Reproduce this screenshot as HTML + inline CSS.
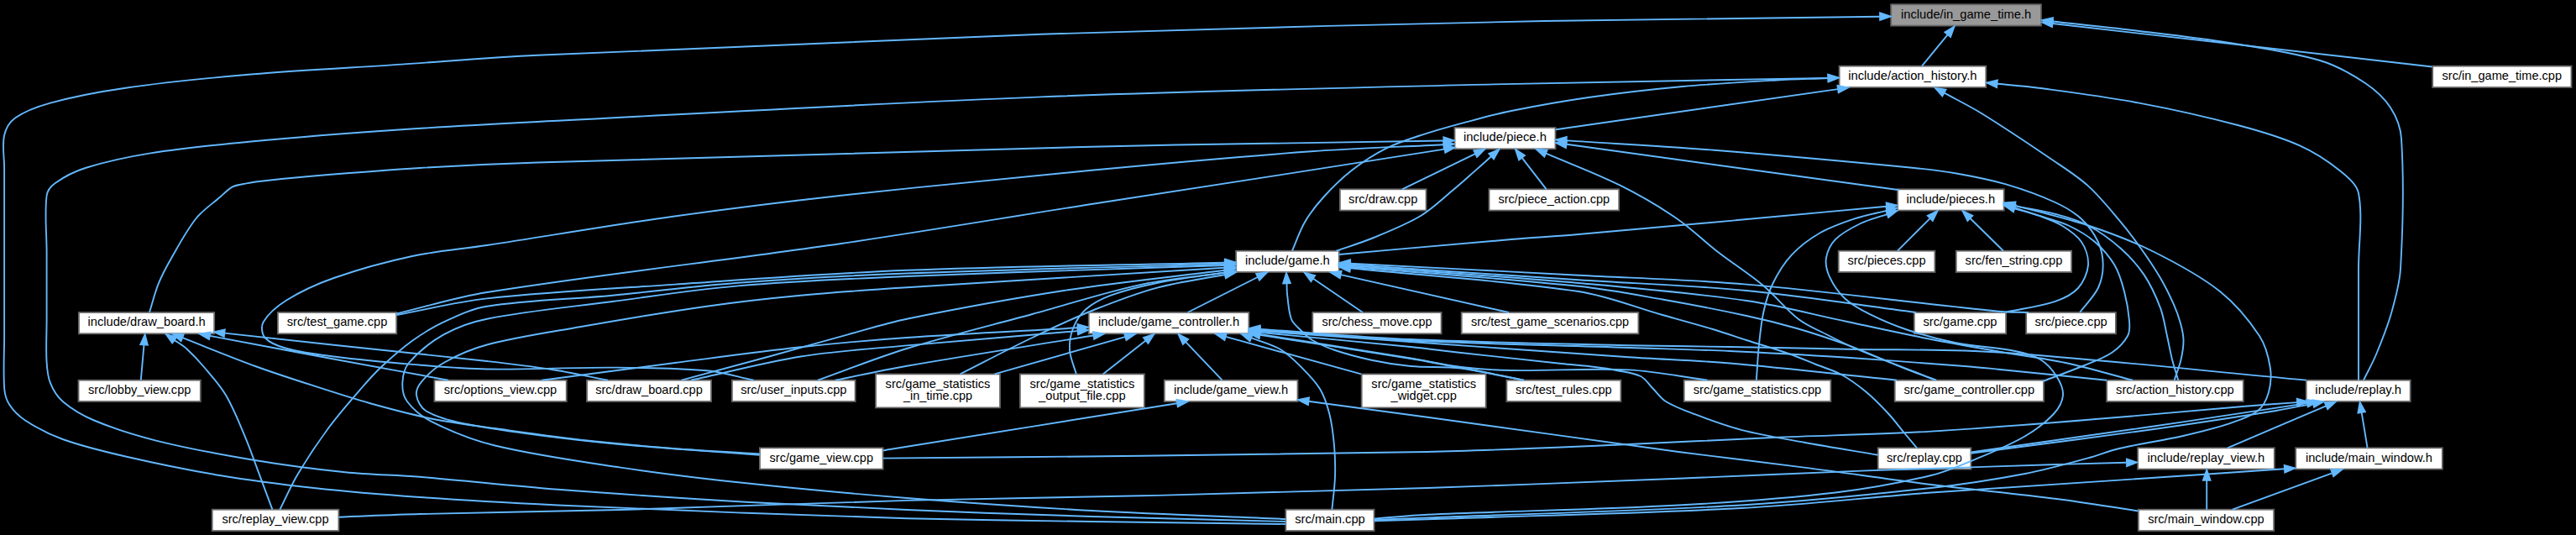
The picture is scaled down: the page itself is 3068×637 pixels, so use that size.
<!DOCTYPE html><html><head><meta charset="utf-8"><title>include/in_game_time.h</title><style>html,body{margin:0;padding:0;background:#000;}body{width:3068px;height:637px;overflow:hidden;font-family:"Liberation Sans",sans-serif;}</style></head><body><svg width="3068" height="637" viewBox="0 0 3068 637" style="display:block"><rect width="3068" height="637" fill="#000"/><g stroke="#666666" stroke-width="1.8"><rect x="2252.2" y="5.3" width="178.7" height="25.3" fill="#999999"/><rect x="2190.6" y="78.7" width="174.7" height="25.3" fill="#ffffff"/><rect x="2897.2" y="78.7" width="165.3" height="25.3" fill="#ffffff"/><rect x="1732.5" y="152.0" width="120.0" height="25.3" fill="#ffffff"/><rect x="1595.9" y="225.3" width="102.7" height="25.3" fill="#ffffff"/><rect x="1773.5" y="225.3" width="154.7" height="25.3" fill="#ffffff"/><rect x="2260.0" y="225.3" width="126.7" height="25.3" fill="#ffffff"/><rect x="1472.1" y="298.7" width="122.7" height="25.3" fill="#ffffff"/><rect x="2189.7" y="298.7" width="114.7" height="25.3" fill="#ffffff"/><rect x="2329.8" y="298.7" width="137.3" height="25.3" fill="#ffffff"/><rect x="93.9" y="372.0" width="161.3" height="25.3" fill="#ffffff"/><rect x="330.9" y="372.0" width="141.3" height="25.3" fill="#ffffff"/><rect x="1296.7" y="372.0" width="190.7" height="25.3" fill="#ffffff"/><rect x="1563.3" y="372.0" width="153.3" height="25.3" fill="#ffffff"/><rect x="1740.7" y="372.0" width="210.7" height="25.3" fill="#ffffff"/><rect x="2279.8" y="372.0" width="109.3" height="25.3" fill="#ffffff"/><rect x="2413.2" y="372.0" width="106.7" height="25.3" fill="#ffffff"/><rect x="93.5" y="452.7" width="145.3" height="25.3" fill="#ffffff"/><rect x="517.4" y="452.7" width="157.3" height="25.3" fill="#ffffff"/><rect x="699.0" y="452.7" width="148.0" height="25.3" fill="#ffffff"/><rect x="871.9" y="452.7" width="146.7" height="25.3" fill="#ffffff"/><rect x="1043.0" y="445.4" width="148.0" height="40.0" fill="#ffffff"/><rect x="1214.9" y="445.4" width="148.0" height="40.0" fill="#ffffff"/><rect x="1386.8" y="452.7" width="158.7" height="25.3" fill="#ffffff"/><rect x="1621.7" y="445.4" width="148.0" height="40.0" fill="#ffffff"/><rect x="1794.4" y="452.7" width="136.0" height="25.3" fill="#ffffff"/><rect x="2005.7" y="452.7" width="174.7" height="25.3" fill="#ffffff"/><rect x="2256.7" y="452.7" width="177.3" height="25.3" fill="#ffffff"/><rect x="2509.1" y="452.7" width="162.7" height="25.3" fill="#ffffff"/><rect x="2746.7" y="452.7" width="124.0" height="25.3" fill="#ffffff"/><rect x="904.9" y="533.3" width="146.7" height="25.3" fill="#ffffff"/><rect x="2236.7" y="533.3" width="110.7" height="25.3" fill="#ffffff"/><rect x="2546.1" y="533.3" width="162.7" height="25.3" fill="#ffffff"/><rect x="2734.2" y="533.3" width="174.7" height="25.3" fill="#ffffff"/><rect x="252.7" y="606.7" width="150.7" height="25.3" fill="#ffffff"/><rect x="1531.3" y="606.7" width="105.3" height="25.3" fill="#ffffff"/><rect x="2546.8" y="606.7" width="161.3" height="25.3" fill="#ffffff"/></g><g fill="none" stroke="#63b8ff" stroke-width="1.9"><path d="M2289.0,78.7L2319.6,41.3"/><path d="M2896.5,79.5L2444.7,28.0"/><path d="M2815.0,452.7C2820.0,442.5 2825.6,432.5 2830.0,422.0C2836.6,405.9 2843.3,389.7 2848.0,373.0C2852.9,355.7 2858.0,337.9 2859.0,320.0C2862.0,268.6 2863.2,216.1 2860.0,165.0C2859.2,152.1 2853.9,138.7 2847.0,128.0C2839.6,116.7 2828.4,106.6 2817.0,99.0C2800.4,88.0 2782.1,77.7 2763.0,72.0C2728.1,61.7 2691.2,56.9 2655.0,51.0C2619.5,45.2 2583.7,41.3 2548.0,37.0C2513.6,32.8 2479.2,29.3 2444.7,25.5"/><path d="M1531.3,624.0C1454.2,623.0 1377.1,622.2 1300.0,621.0C1226.7,619.9 1153.3,619.0 1080.0,617.2C1016.2,615.6 952.4,613.2 888.6,610.8C813.8,608.0 739.0,605.1 664.3,601.5C609.5,598.8 554.7,595.9 500.0,592.0C457.8,589.0 415.7,585.6 373.7,581.0C336.2,576.9 298.8,572.2 261.6,566.0C224.0,559.7 186.6,552.0 149.5,543.5C124.3,537.7 98.9,531.7 74.7,523.0C59.1,517.4 43.8,509.5 30.0,500.5C22.7,495.7 15.9,489.0 11.2,481.8C7.7,476.5 5.7,469.5 5.2,463.0C3.7,442.2 5.1,421.0 5.1,400.0C5.1,366.7 5.1,333.3 5.1,300.0C5.1,266.7 5.1,233.3 5.1,200.0C5.1,187.2 2.4,173.6 5.0,161.5C6.7,153.7 11.6,145.1 18.0,140.5C29.9,132.1 45.4,126.6 60.0,122.6C89.2,114.6 119.4,109.0 149.5,104.7C199.1,97.6 249.1,92.8 299.0,88.5C358.7,83.4 418.7,80.6 478.5,76.6C532.3,73.0 586.1,68.3 640.0,65.8C839.9,56.4 1039.9,47.5 1240.0,40.7C1439.9,33.9 1640.0,29.2 1840.0,25.0C1972.9,22.2 2105.9,21.5 2238.9,19.7"/><path d="M1853.0,154.2L2188.8,106.1"/><path d="M1539.0,298.5C1544.0,287.1 1547.8,275.0 1554.0,264.4C1560.3,253.7 1568.1,243.7 1576.5,234.5C1586.8,223.2 1597.9,212.2 1610.0,202.8C1622.7,192.9 1636.6,183.8 1651.0,176.6C1665.2,169.5 1680.8,164.8 1696.0,159.8C1713.3,154.2 1730.9,149.5 1748.4,144.8C1765.5,140.2 1782.6,135.5 1800.0,132.0C1830.5,125.9 1861.2,120.4 1892.0,116.0C1929.2,110.7 1966.6,106.4 2004.0,103.0C2041.3,99.6 2078.6,97.6 2116.0,95.5C2136.4,94.3 2156.8,93.9 2177.2,93.0"/><path d="M1531.3,621.0C1454.2,619.0 1377.1,617.4 1300.0,615.0C1226.7,612.7 1153.3,610.1 1080.0,607.0C1016.2,604.3 952.4,601.4 888.6,597.7C813.8,593.3 739.0,588.5 664.3,582.8C609.5,578.6 554.8,572.3 500.0,567.8C470.4,565.4 440.6,565.2 411.0,562.2C373.6,558.4 336.1,553.4 299.0,547.2C261.4,540.9 223.7,534.0 186.8,524.8C161.4,518.5 136.0,510.5 112.0,500.5C98.7,494.9 85.5,487.2 74.7,478.0C68.1,472.3 63.0,463.8 59.8,455.7C56.6,447.8 56.0,438.6 55.5,430.0C54.6,413.4 55.6,396.7 55.6,380.0C55.6,353.3 55.6,326.7 55.6,300.0C55.6,277.7 52.9,254.5 55.6,233.0C56.3,227.2 61.0,221.4 65.8,218.0C76.4,210.4 89.0,204.0 101.7,200.0C126.9,192.1 153.2,186.6 179.4,182.4C219.0,176.1 259.0,172.3 299.0,168.5C358.7,162.9 418.6,158.4 478.5,154.3C532.3,150.6 586.1,147.8 640.0,145.0C840.0,134.8 1039.9,123.2 1240.0,115.4C1419.9,108.4 1600.0,104.7 1780.0,100.4C1912.4,97.2 2044.8,95.4 2177.2,92.9"/><path d="M2589.6,452.7C2592.2,444.7 2595.5,436.9 2597.4,428.8C2599.2,421.0 2600.6,412.9 2600.5,405.0C2600.4,398.3 2598.8,391.5 2597.0,385.0C2594.9,377.4 2592.2,369.9 2589.0,362.7C2584.2,351.9 2579.0,341.2 2573.0,331.0C2566.0,319.0 2558.1,307.4 2550.0,296.0C2542.4,285.3 2534.5,274.7 2526.0,264.6C2513.5,249.8 2501.3,234.4 2487.0,221.4C2473.9,209.5 2458.5,200.0 2443.8,190.0C2416.2,171.2 2388.4,152.6 2360.0,135.0C2345.7,126.1 2330.5,118.8 2315.7,110.7"/><path d="M2809.0,452.7C2809.0,408.5 2809.0,364.2 2809.0,320.0C2809.0,290.0 2814.3,258.1 2809.0,230.0C2806.9,219.2 2795.7,210.5 2786.8,203.3C2772.4,191.6 2756.0,181.0 2739.0,173.4C2716.1,163.1 2691.4,156.0 2667.0,149.5C2627.6,139.0 2587.7,130.1 2547.6,122.6C2508.0,115.2 2467.9,110.1 2428.0,104.7C2411.7,102.5 2395.2,101.4 2378.8,99.8"/><path d="M178.0,372.0C181.5,360.9 184.1,349.4 188.4,338.6C192.5,328.3 197.8,318.3 203.3,308.7C212.8,292.1 221.9,274.8 233.6,260.0C241.3,250.3 252.2,243.2 261.6,235.0C266.5,230.8 271.1,225.8 276.5,222.6C279.8,220.7 283.9,220.3 287.7,219.5C293.9,218.2 300.1,216.9 306.4,216.2C328.8,213.6 351.2,211.4 373.7,209.5C415.8,206.0 457.9,202.5 500.0,200.0C546.6,197.2 593.3,195.0 640.0,193.5C860.0,186.5 1080.0,180.0 1300.0,174.7C1439.7,171.3 1579.4,169.9 1719.2,167.5"/><path d="M472.2,373.5C508.1,365.0 543.6,353.7 580.0,348.0C720.2,325.9 861.5,310.5 1002.0,290.0C1101.5,275.5 1200.6,258.5 1300.0,243.0C1374.6,231.3 1449.3,220.0 1524.0,208.4C1589.5,198.2 1654.9,187.8 1720.3,177.6"/><path d="M1670.0,225.3L1757.0,183.2"/><path d="M1591.5,298.7C1606.3,293.5 1621.5,289.0 1636.0,283.0C1655.0,275.1 1674.5,267.5 1692.0,257.0C1705.7,248.8 1717.3,237.3 1729.7,227.0C1739.9,218.6 1749.7,209.6 1759.6,200.9C1765.1,196.1 1770.6,191.1 1776.0,186.3"/><path d="M1841.7,225.3L1812.7,187.9"/><path d="M2306.0,452.7C2297.3,449.5 2288.6,446.4 2280.0,443.0C2256.6,433.8 2233.1,424.9 2210.0,415.0C2198.8,410.2 2187.9,404.6 2177.0,399.0C2165.2,392.9 2152.4,388.0 2142.0,380.0C2126.8,368.3 2114.8,352.4 2100.0,340.0C2082.8,325.7 2063.7,313.7 2046.0,300.0C2029.3,287.0 2014.1,271.9 1996.7,260.0C1975.3,245.4 1952.7,232.2 1929.5,220.7C1900.9,206.5 1870.7,195.3 1841.2,182.7"/><path d="M2262.0,226.3L1865.7,171.8"/><path d="M2477.0,372.0C2484.3,362.3 2493.6,353.6 2498.8,343.0C2502.8,334.8 2504.7,324.7 2504.7,315.6C2504.7,306.4 2502.7,296.3 2498.8,288.0C2494.1,278.0 2487.1,268.2 2479.0,260.7C2470.1,252.5 2458.9,246.1 2447.8,241.0C2428.9,232.3 2409.0,225.3 2389.0,219.4C2369.7,213.8 2349.8,210.0 2330.0,206.5C2313.5,203.6 2296.7,201.6 2280.0,200.0C2200.6,192.4 2121.1,185.1 2041.6,178.8C1983.1,174.2 1924.4,171.2 1865.8,167.4"/><path d="M2389.0,371.6C2408.6,367.3 2429.0,365.1 2447.8,358.8C2457.6,355.5 2468.3,350.4 2475.0,343.0C2481.4,336.0 2486.3,325.0 2487.0,315.6C2487.7,306.6 2484.1,295.6 2479.0,288.0C2473.6,279.9 2464.2,273.8 2455.6,268.5C2447.2,263.3 2437.4,260.2 2428.0,256.7C2418.6,253.2 2408.9,250.6 2399.3,247.5"/><path d="M2433.0,454.0C2448.7,448.0 2464.5,442.4 2480.0,436.0C2491.8,431.1 2504.5,427.0 2515.0,420.0C2522.5,415.0 2529.8,407.6 2534.0,400.0C2536.8,395.0 2536.5,388.0 2536.0,382.0C2535.1,370.3 2533.0,358.4 2530.0,347.0C2527.2,336.3 2524.0,325.1 2518.4,315.6C2512.3,305.4 2504.0,295.8 2495.0,288.0C2485.7,280.1 2474.6,273.7 2463.5,268.5C2452.3,263.3 2439.9,260.5 2428.0,256.7C2418.5,253.7 2408.9,251.1 2399.4,248.3"/><path d="M2594.3,452.7C2591.9,444.5 2589.1,436.3 2587.0,428.0C2584.7,418.8 2583.1,409.3 2581.0,400.0C2578.5,388.8 2577.0,377.3 2573.0,366.6C2567.9,353.1 2561.7,339.4 2553.7,327.4C2546.0,315.9 2536.4,305.2 2526.0,296.0C2514.2,285.5 2500.9,275.8 2487.0,268.5C2474.9,262.1 2461.1,258.4 2447.8,254.8C2432.0,250.6 2415.7,248.4 2399.7,245.1"/><path d="M2260.0,298.7L2298.6,260.1"/><path d="M2386.0,298.7L2346.5,260.0"/><path d="M897.6,452.7C878.9,448.9 860.5,443.0 841.6,441.3C804.5,438.0 766.9,437.9 729.5,437.6C679.7,437.3 629.8,440.3 580.0,439.5C550.3,439.0 520.6,436.3 491.0,433.9C459.8,431.3 428.6,428.4 397.6,424.5C378.8,422.1 359.7,420.0 341.6,415.0C332.3,412.5 321.1,408.4 315.4,402.0C311.8,397.9 310.7,388.3 313.6,383.4C319.5,373.4 330.9,364.0 341.6,357.3C358.9,346.5 378.2,337.8 397.6,331.0C428.0,320.4 459.5,311.7 491.0,305.0C520.3,298.7 550.4,296.5 580.0,292.0C653.4,280.8 726.5,268.3 800.0,258.0C866.5,248.7 933.2,240.4 1000.0,233.0C1099.9,222.0 1199.9,212.2 1300.0,202.8C1387.1,194.6 1474.3,186.7 1561.6,180.3C1614.1,176.5 1666.7,174.9 1719.2,172.2"/><path d="M167.8,452.7L171.5,410.7"/><path d="M324.4,606.7C319.6,593.7 314.9,580.7 310.0,567.8C303.9,551.6 298.2,535.2 291.5,519.2C284.6,502.8 278.0,485.9 269.0,470.6C261.8,458.5 252.1,447.8 243.0,437.0C236.5,429.3 229.5,421.8 222.0,415.0C217.8,411.1 212.6,408.4 207.9,405.1"/><path d="M904.7,541.7C874.4,539.5 844.1,537.5 813.8,535.0C776.4,531.9 739.0,529.0 701.7,524.8C664.2,520.6 626.9,515.2 589.5,510.0C564.6,506.5 539.5,503.6 514.8,498.7C489.6,493.6 464.7,486.9 440.0,480.0C417.7,473.8 395.7,466.5 373.7,459.4C350.4,451.9 327.0,444.4 304.0,436.0C274.9,425.4 246.3,413.5 217.4,402.2"/><path d="M534.0,452.7C489.3,444.5 444.7,436.3 400.0,428.0C350.0,418.7 300.1,409.2 250.1,399.9"/><path d="M723.9,452.7C700.8,448.3 677.9,443.2 654.7,439.5C629.9,435.6 604.9,432.8 580.0,430.0C520.0,423.3 460.0,417.4 400.0,411.0C355.8,406.3 311.7,401.4 267.6,396.6"/><path d="M472.2,375.0C508.1,368.5 543.7,359.4 580.0,355.4C654.3,347.2 729.3,343.6 804.0,338.6C896.0,332.4 987.9,325.4 1080.0,321.8C1206.1,316.8 1332.4,315.7 1458.7,312.7"/><path d="M333.3,606.7C340.5,592.5 346.8,577.7 355.0,564.0C366.5,544.8 379.1,526.0 392.4,508.0C404.0,492.4 416.9,477.7 429.7,463.0C437.5,454.0 445.3,445.1 454.0,437.0C465.8,426.0 478.0,415.2 491.0,405.8C502.8,397.3 515.3,389.5 528.4,383.4C544.9,375.8 562.0,367.5 580.0,364.7C629.1,357.0 679.7,356.4 729.5,351.7C779.4,347.0 829.1,340.4 879.0,336.7C945.9,331.7 1013.0,328.1 1080.0,325.5C1206.2,320.6 1332.5,318.1 1458.7,314.4"/><path d="M1531.3,618.0C1454.2,614.7 1377.0,612.3 1300.0,608.0C1226.6,603.9 1153.3,598.8 1080.0,593.0C1016.1,587.9 952.3,582.1 888.6,575.3C838.6,570.0 788.7,564.0 739.0,556.6C689.0,549.1 638.5,542.3 589.5,530.5C563.7,524.3 538.3,514.2 514.8,502.4C503.4,496.7 492.3,487.8 484.9,478.0C480.5,472.2 479.0,463.1 479.3,455.7C479.7,447.7 481.8,438.1 487.0,432.0C498.2,419.0 513.1,407.0 528.4,398.4C544.1,389.6 562.1,383.2 580.0,379.7C629.2,370.1 679.6,365.6 729.5,359.0C779.3,352.5 829.0,344.7 879.0,340.4C945.8,334.7 1013.0,331.8 1080.0,329.0C1206.2,323.7 1332.5,320.3 1458.7,316.0"/><path d="M904.7,540.5C861.9,537.8 819.1,535.8 776.4,532.3C739.0,529.3 701.6,525.6 664.3,521.0C626.8,516.3 589.0,511.8 552.0,504.3C536.6,501.2 520.1,497.0 507.3,489.3C501.4,485.7 496.9,477.1 496.0,470.6C495.2,465.5 498.6,458.7 502.2,454.4C509.4,445.8 518.5,437.6 528.4,432.0C544.4,422.9 562.1,415.2 580.0,410.5C616.6,400.9 654.6,395.6 692.0,389.0C741.8,380.3 791.6,371.8 841.6,364.7C878.8,359.4 916.3,355.2 953.7,351.7C995.7,347.8 1037.9,345.0 1080.0,342.3C1206.2,334.1 1332.5,326.6 1458.7,318.8"/><path d="M811.7,452.7C846.5,443.3 881.3,434.0 916.0,424.5C947.3,415.9 978.4,406.9 1009.7,398.4C1033.1,392.0 1056.3,384.5 1080.0,379.7C1142.0,367.1 1204.4,355.6 1267.0,346.0C1330.7,336.2 1394.9,329.8 1458.8,321.7"/><path d="M974.0,452.7C1009.3,440.1 1044.2,426.0 1080.0,415.0C1129.4,399.8 1179.6,387.6 1229.5,374.0C1273.0,362.1 1316.0,348.0 1360.0,338.6C1392.4,331.6 1425.9,329.4 1458.8,324.8"/><path d="M1143.5,445.4C1172.2,430.9 1200.5,415.9 1229.5,402.0C1254.0,390.2 1278.7,378.6 1304.0,368.5C1328.6,358.7 1353.5,349.1 1379.0,342.3C1405.1,335.3 1432.3,332.1 1458.9,327.0"/><path d="M1281.8,445.4C1279.2,435.9 1274.7,426.6 1274.0,417.0C1273.4,408.4 1274.9,399.0 1278.0,391.0C1281.2,382.8 1286.4,374.3 1293.0,368.5C1301.4,361.2 1312.3,355.6 1323.0,351.7C1341.0,345.0 1360.1,340.5 1379.0,336.7C1405.4,331.4 1432.2,328.6 1458.8,324.5"/><path d="M645.4,452.7C698.3,445.8 751.1,438.8 804.0,432.0C853.9,425.6 903.7,418.7 953.7,413.3C995.7,408.7 1037.8,404.9 1080.0,402.0C1147.7,397.3 1215.6,394.2 1283.4,390.3"/><path d="M823.0,452.7C866.6,443.3 909.8,431.6 953.7,424.5C995.4,417.8 1037.9,415.3 1080.0,411.4C1147.8,405.2 1215.6,399.9 1283.4,394.1"/><path d="M994.8,452.7C1023.2,447.0 1051.5,440.6 1080.0,435.7C1153.9,422.9 1228.2,411.6 1302.2,399.5"/><path d="M1184.6,445.4L1340.0,401.1"/><path d="M1313.6,445.4L1364.5,405.6"/><path d="M1455.6,452.7L1412.2,407.1"/><path d="M1414.5,372.0L1497.8,330.0"/><path d="M1623.0,372.0L1564.0,331.7"/><path d="M1797.0,372.0L1597.0,327.1"/><path d="M1815.0,452.7C1790.0,448.0 1765.2,441.6 1740.0,438.5C1720.2,436.0 1699.9,437.8 1680.0,436.0C1664.7,434.6 1649.5,432.2 1634.5,429.0C1619.5,425.8 1604.5,421.9 1590.0,417.0C1580.7,413.9 1571.4,409.9 1563.0,405.0C1557.7,401.9 1553.3,397.3 1549.0,393.0C1545.0,389.0 1539.9,385.1 1538.0,380.0C1534.6,370.8 1534.3,360.0 1533.0,350.0C1532.5,345.9 1532.7,341.7 1532.5,337.5"/><path d="M2416.0,372.0C2404.0,371.6 2391.9,371.9 2380.0,370.7C2279.9,360.8 2180.2,347.2 2080.0,338.6C2013.5,332.9 1946.7,331.2 1880.0,327.7C1789.4,322.9 1698.7,318.4 1608.1,313.7"/><path d="M2282.0,372.0C2214.7,363.3 2147.5,352.5 2080.0,346.0C2013.5,339.6 1946.7,337.7 1880.0,333.3C1789.4,327.4 1698.7,321.2 1608.1,315.1"/><path d="M2540.0,452.7C2513.3,445.8 2486.9,437.8 2460.0,432.0C2433.6,426.4 2406.6,423.2 2380.0,418.5C2353.3,413.8 2326.6,409.2 2300.0,404.0C2266.6,397.4 2233.3,390.0 2200.0,383.0C2160.0,374.6 2120.4,363.8 2080.0,358.0C2013.7,348.5 1946.8,342.9 1880.0,337.0C1789.5,329.0 1698.7,323.3 1608.1,316.4"/><path d="M2306.0,452.7C2290.7,446.8 2275.3,441.1 2260.0,435.0C2239.9,427.1 2220.2,418.1 2200.0,410.7C2180.2,403.5 2160.2,396.8 2140.0,391.0C2120.2,385.3 2100.1,380.3 2080.0,376.0C2046.8,368.8 2013.4,362.4 1980.0,356.5C1946.8,350.7 1913.5,344.3 1880.0,340.8C1789.6,331.4 1698.7,325.4 1608.1,317.7"/><path d="M2283.0,533.3C2278.0,527.4 2273.0,521.5 2268.0,515.5C2261.8,508.0 2256.1,500.1 2249.5,493.0C2241.1,483.9 2232.5,474.9 2223.0,467.0C2213.6,459.2 2203.6,451.8 2193.0,446.0C2183.6,440.8 2173.0,438.0 2163.0,434.0C2152.0,429.6 2141.2,424.9 2130.0,421.0C2113.5,415.2 2096.7,410.4 2080.0,405.0C2066.7,400.7 2053.4,396.0 2040.0,392.0C2020.1,386.0 2000.0,380.6 1980.0,375.0C1946.7,365.6 1914.1,352.1 1880.0,347.0C1790.2,333.6 1698.7,328.6 1608.1,319.3"/><path d="M1621.0,445.4L1459.9,400.9"/><path d="M1586.4,606.7C1587.6,593.7 1589.6,580.8 1590.0,567.8C1590.4,555.4 1590.1,542.9 1589.0,530.5C1587.9,517.9 1586.5,505.2 1583.4,493.0C1580.8,482.7 1577.4,472.0 1572.0,463.0C1566.2,453.4 1557.7,445.0 1549.7,437.0C1542.1,429.4 1534.2,421.4 1525.0,416.0C1514.4,409.8 1501.9,406.9 1490.4,402.3"/><path d="M1815.0,452.7C1790.0,447.8 1765.0,442.8 1740.0,438.0C1720.0,434.2 1700.1,430.3 1680.0,427.0C1620.3,417.2 1560.4,408.2 1500.6,398.9"/><path d="M2033.5,452.7C2002.3,448.6 1971.3,442.0 1940.0,440.4C1893.5,438.1 1846.6,441.8 1800.0,441.0C1780.0,440.7 1759.9,439.4 1740.0,437.0C1719.9,434.6 1700.0,429.8 1680.0,426.5C1620.2,416.7 1560.4,407.4 1500.6,397.9"/><path d="M2236.7,541.7C2207.3,536.7 2177.9,532.1 2148.6,526.7C2123.6,522.1 2098.4,518.1 2073.8,511.8C2054.8,506.9 2036.2,499.9 2017.8,493.0C2006.3,488.7 1994.3,484.4 1984.0,478.0C1978.1,474.4 1974.0,468.0 1969.0,463.0C1964.0,458.0 1960.1,451.0 1954.0,448.0C1945.1,443.6 1934.1,442.8 1924.0,440.7C1916.1,439.1 1908.0,438.0 1900.0,437.0C1886.7,435.4 1873.3,434.4 1860.0,433.0C1820.0,428.7 1780.0,424.4 1740.0,420.0C1720.0,417.8 1700.0,415.0 1680.0,413.0C1620.3,407.0 1560.4,401.6 1500.7,395.9"/><path d="M2259.0,452.7C2192.7,446.0 2126.4,438.2 2060.0,432.5C2020.1,429.1 1980.0,427.9 1940.0,425.2C1853.3,419.4 1766.7,413.1 1680.0,407.0C1620.2,402.8 1560.5,398.6 1500.7,394.3"/><path d="M2509.0,452.7C2466.0,448.4 2423.0,443.9 2380.0,439.7C2366.7,438.4 2353.4,437.0 2340.0,436.0C2293.4,432.4 2246.7,428.8 2200.0,425.8C2153.4,422.8 2106.7,420.1 2060.0,418.0C2020.0,416.2 1980.0,415.3 1940.0,414.0C1853.3,411.1 1766.6,409.6 1680.0,405.5C1620.2,402.7 1560.5,397.2 1500.7,393.1"/><path d="M2746.7,452.6C2624.5,441.6 2502.4,427.8 2380.0,419.5C2320.2,415.5 2260.0,416.9 2200.0,415.7C2153.3,414.8 2106.7,413.8 2060.0,413.0C2020.0,412.3 1980.0,412.1 1940.0,411.2C1853.3,409.1 1766.6,407.8 1680.0,404.0C1620.2,401.4 1560.5,395.9 1500.7,391.9"/><path d="M1594.8,303.0C1663.2,297.0 1731.6,290.8 1800.0,285.0C1826.6,282.8 1853.4,281.3 1880.0,279.0C1942.4,273.7 2004.7,268.0 2067.0,262.3C2126.9,256.9 2186.8,251.2 2246.7,245.7"/><path d="M2091.8,452.7C2092.9,438.5 2093.5,424.2 2095.0,410.0C2096.4,396.9 2097.6,383.5 2100.5,370.7C2103.1,359.2 2106.5,347.5 2111.7,337.0C2117.6,325.1 2124.9,313.1 2134.0,303.4C2143.6,293.2 2155.5,284.3 2167.7,277.3C2180.4,270.0 2194.8,265.1 2208.8,260.4C2221.2,256.2 2234.3,254.0 2247.1,250.8"/><path d="M1636.7,617.6C1657.8,616.0 1678.9,613.6 1700.0,612.7C1799.6,608.3 1899.4,606.9 1999.0,601.5C2061.4,598.1 2124.0,593.8 2186.0,586.5C2224.3,582.0 2262.6,575.0 2300.0,566.0C2319.3,561.3 2337.7,553.1 2356.0,545.4C2375.0,537.5 2394.3,529.5 2412.0,519.2C2424.2,512.1 2436.3,503.2 2445.8,493.0C2451.3,487.0 2456.4,478.3 2457.0,470.6C2457.6,463.4 2453.6,454.7 2449.5,448.2C2444.6,440.5 2437.8,432.7 2430.0,428.0C2421.3,422.7 2410.3,420.0 2400.0,418.0C2376.4,413.4 2352.0,412.6 2328.4,408.0C2309.5,404.3 2290.7,399.1 2272.4,393.0C2257.1,387.9 2241.9,381.6 2227.5,374.4C2217.0,369.2 2206.1,363.5 2197.6,355.7C2189.9,348.6 2183.4,339.1 2179.0,329.6C2175.9,322.8 2173.8,314.2 2175.0,307.0C2176.3,299.2 2180.7,290.4 2186.4,284.7C2194.4,276.7 2205.6,271.1 2216.0,266.0C2225.9,261.2 2236.9,258.7 2247.4,255.1"/><path d="M1636.7,619.0C1657.8,618.1 1678.9,617.2 1700.0,616.4C1824.6,611.4 1949.4,608.8 2073.8,601.5C2149.4,597.0 2224.8,589.3 2300.0,581.0C2337.5,576.8 2374.9,571.1 2412.0,564.0C2437.3,559.2 2462.1,552.1 2487.0,545.4C2499.5,542.1 2511.4,536.9 2524.0,534.0C2548.8,528.2 2574.2,524.8 2599.0,519.2C2617.8,514.9 2636.7,510.4 2655.0,504.3C2666.7,500.4 2679.6,496.6 2688.8,489.3C2695.3,484.2 2699.7,475.1 2702.0,467.0C2704.7,457.6 2705.3,446.7 2703.7,437.0C2701.6,424.4 2698.1,410.7 2691.0,400.0C2678.2,380.7 2662.3,361.5 2644.0,347.0C2620.4,328.2 2592.7,313.6 2565.5,300.0C2540.4,287.4 2513.7,277.4 2487.0,268.5C2458.4,259.0 2428.6,252.6 2399.5,244.7"/><path d="M1051.7,545.6C1154.1,544.7 1256.6,544.0 1359.0,542.8C1472.7,541.5 1586.4,540.6 1700.0,538.0C1774.7,536.3 1849.3,532.8 1924.0,529.7C1986.3,527.1 2048.7,523.7 2111.0,521.0C2174.0,518.3 2237.1,517.3 2300.0,513.6C2374.7,509.2 2449.4,502.8 2524.0,496.8C2574.0,492.8 2623.9,487.9 2673.8,483.7C2694.4,482.0 2715.1,480.6 2735.7,479.1"/><path d="M2347.3,538.5C2418.8,528.3 2490.3,518.4 2561.7,508.0C2611.5,500.8 2661.2,493.1 2711.0,485.6C2723.3,483.8 2735.5,481.9 2747.8,480.1"/><path d="M2347.3,539.7C2418.8,530.3 2490.3,521.5 2561.7,511.5C2611.5,504.6 2661.3,496.9 2711.0,489.0C2725.7,486.6 2740.3,483.4 2754.9,480.6"/><path d="M2653.0,533.3L2770.2,483.3"/><path d="M2819.6,533.3L2812.7,491.3"/><path d="M403.4,615.7C435.6,614.5 467.8,612.8 500.0,612.0C579.7,609.9 659.3,609.2 739.0,607.0C852.7,603.8 966.3,599.0 1080.0,595.9C1173.0,593.4 1266.0,592.5 1359.0,590.3C1472.7,587.6 1586.4,584.7 1700.0,581.0C1799.7,577.8 1899.3,573.6 1999.0,569.7C2073.7,566.8 2148.3,563.3 2223.0,560.4C2262.0,558.9 2301.0,557.9 2340.0,556.6C2376.5,555.4 2413.0,554.1 2449.5,553.0C2477.2,552.2 2504.9,551.6 2532.7,550.8"/><path d="M2628.2,606.7L2628.2,572.0"/><path d="M1636.7,620.4C1657.8,619.7 1678.9,619.0 1700.0,618.3C1824.6,613.9 1949.3,611.6 2073.8,605.0C2149.3,601.0 2224.6,592.1 2300.0,586.5C2374.6,581.0 2449.3,576.6 2524.0,571.6C2589.6,567.2 2655.1,562.7 2720.7,558.3"/><path d="M2658.9,606.7L2777.5,563.3"/><path d="M1051.7,536.5C1054.5,536.0 1057.2,535.4 1060.0,535.0C1173.9,516.7 1287.9,498.5 1401.8,480.2"/><path d="M2546.7,608.5C2514.3,603.7 2482.0,598.1 2449.5,594.0C2399.8,587.6 2349.8,583.2 2300.0,577.0C2249.5,570.7 2199.1,563.1 2148.6,556.6C2098.8,550.1 2048.8,544.5 1999.0,538.0C1949.1,531.5 1899.3,524.3 1849.5,517.4C1799.7,510.5 1749.8,503.6 1700.0,496.8C1652.9,490.4 1605.8,484.1 1558.7,477.8"/></g><g fill="#63b8ff" stroke="#63b8ff" stroke-width="1.33"><polygon points="2328.0,31.0 2323.2,44.3 2315.9,38.4"/><polygon points="2431.5,26.5 2445.3,23.4 2444.2,32.6"/><polygon points="2431.5,24.0 2445.3,20.8 2444.2,30.1"/><polygon points="2252.2,19.5 2238.9,24.3 2238.8,15.0"/><polygon points="2202.0,104.2 2189.5,110.7 2188.1,101.5"/><polygon points="2190.5,92.5 2177.4,97.7 2177.0,88.4"/><polygon points="2190.5,92.7 2177.3,97.6 2177.1,88.3"/><polygon points="2304.0,104.3 2317.9,106.6 2313.4,114.8"/><polygon points="2365.5,98.5 2379.2,95.2 2378.3,104.5"/><polygon points="1732.5,167.3 1719.3,172.2 1719.1,162.9"/><polygon points="1733.5,175.5 1721.1,182.2 1719.6,173.0"/><polygon points="1769.0,177.4 1759.0,187.4 1755.0,179.0"/><polygon points="1786.0,177.4 1779.1,189.8 1772.9,182.8"/><polygon points="1804.5,177.4 1816.4,185.1 1809.0,190.8"/><polygon points="1829.0,177.4 1843.1,178.4 1839.4,187.0"/><polygon points="1852.5,170.0 1866.3,167.2 1865.1,176.4"/><polygon points="1852.5,166.5 1866.1,162.7 1865.5,172.0"/><polygon points="2386.6,243.5 2400.7,243.1 2397.9,252.0"/><polygon points="2386.6,244.5 2400.7,243.8 2398.1,252.7"/><polygon points="2386.6,242.5 2400.6,240.5 2398.7,249.7"/><polygon points="2308.0,250.7 2301.9,263.4 2295.3,256.8"/><polygon points="2337.0,250.7 2349.8,256.7 2343.3,263.4"/><polygon points="1732.5,171.5 1719.4,176.8 1718.9,167.5"/><polygon points="172.7,397.4 176.2,411.1 166.9,410.3"/><polygon points="197.0,397.4 210.6,401.3 205.2,408.9"/><polygon points="205.0,397.4 219.1,397.9 215.7,406.6"/><polygon points="237.0,397.4 251.0,395.3 249.2,404.4"/><polygon points="254.3,395.2 268.1,392.0 267.0,401.3"/><polygon points="1472.0,312.4 1458.8,317.4 1458.6,308.1"/><polygon points="1472.0,314.0 1458.8,319.1 1458.5,309.7"/><polygon points="1472.0,315.5 1458.8,320.6 1458.5,311.3"/><polygon points="1472.0,318.0 1459.0,323.5 1458.4,314.2"/><polygon points="1472.0,320.0 1459.4,326.3 1458.2,317.0"/><polygon points="1472.0,323.0 1459.4,329.5 1458.2,320.2"/><polygon points="1472.0,324.5 1459.8,331.6 1458.0,322.4"/><polygon points="1472.0,322.5 1459.5,329.1 1458.1,319.9"/><polygon points="1296.7,389.5 1283.7,394.9 1283.1,385.6"/><polygon points="1296.7,393.0 1283.8,398.8 1283.0,389.5"/><polygon points="1315.4,397.4 1303.0,404.2 1301.5,394.9"/><polygon points="1352.8,397.4 1341.3,405.5 1338.7,396.6"/><polygon points="1375.0,397.4 1367.4,409.3 1361.6,401.9"/><polygon points="1403.0,397.4 1415.6,403.8 1408.8,410.3"/><polygon points="1509.7,324.0 1499.9,334.2 1495.7,325.8"/><polygon points="1553.0,324.2 1566.6,327.9 1561.4,335.6"/><polygon points="1584.0,324.2 1598.0,322.6 1596.0,331.7"/><polygon points="1532.0,324.2 1537.2,337.3 1527.8,337.7"/><polygon points="1594.8,313.0 1608.4,309.0 1607.9,318.3"/><polygon points="1594.8,314.2 1608.4,310.4 1607.8,319.8"/><polygon points="1594.8,315.4 1608.4,311.8 1607.7,321.1"/><polygon points="1594.8,316.6 1608.5,313.1 1607.7,322.4"/><polygon points="1594.8,318.0 1608.5,314.7 1607.6,324.0"/><polygon points="1447.0,397.4 1461.1,396.4 1458.6,405.4"/><polygon points="1478.0,397.4 1492.1,398.0 1488.7,406.6"/><polygon points="1487.4,396.8 1501.3,394.3 1499.8,403.5"/><polygon points="1487.4,395.8 1501.3,393.3 1499.8,402.5"/><polygon points="1487.4,394.6 1501.1,391.2 1500.2,400.5"/><polygon points="1487.4,393.4 1501.0,389.7 1500.4,399.0"/><polygon points="1487.4,392.2 1501.0,388.5 1500.4,397.8"/><polygon points="1487.4,391.0 1501.0,387.2 1500.4,396.6"/><polygon points="2260.0,244.5 2247.2,250.4 2246.3,241.1"/><polygon points="2260.0,247.5 2248.2,255.3 2245.9,246.2"/><polygon points="2260.0,250.7 2248.9,259.5 2245.9,250.7"/><polygon points="2386.6,241.2 2400.7,240.2 2398.2,249.2"/><polygon points="2749.0,478.1 2736.1,483.7 2735.4,474.4"/><polygon points="2761.0,478.1 2748.5,484.7 2747.1,475.5"/><polygon points="2768.0,478.1 2755.8,485.2 2754.0,476.0"/><polygon points="2782.5,478.1 2772.1,487.6 2768.4,479.0"/><polygon points="2810.5,478.1 2817.3,490.5 2808.1,492.0"/><polygon points="2546.0,550.5 2532.8,555.5 2532.6,546.2"/><polygon points="2628.2,558.7 2632.9,572.0 2623.5,572.0"/><polygon points="2734.0,557.4 2721.0,563.0 2720.4,553.6"/><polygon points="2790.0,558.7 2779.1,567.7 2775.9,558.9"/><polygon points="1415.0,478.1 1402.6,484.8 1401.1,475.6"/><polygon points="1545.5,476.0 1559.3,473.2 1558.1,482.4"/></g><g font-family="'Liberation Sans', sans-serif" font-size="14.6px" text-anchor="middle" fill="#000"><text x="2341.6" y="21.6" textLength="155.1" lengthAdjust="spacingAndGlyphs">include/in_game_time.h</text><text x="2277.9" y="95.0" textLength="153.4" lengthAdjust="spacingAndGlyphs">include/action_history.h</text><text x="2979.8" y="95.0" textLength="142.4" lengthAdjust="spacingAndGlyphs">src/in_game_time.cpp</text><text x="1792.5" y="168.3" textLength="99.0" lengthAdjust="spacingAndGlyphs">include/piece.h</text><text x="1647.2" y="241.6" textLength="82.2" lengthAdjust="spacingAndGlyphs">src/draw.cpp</text><text x="1850.8" y="241.6" textLength="132.8" lengthAdjust="spacingAndGlyphs">src/piece_action.cpp</text><text x="2323.3" y="241.6" textLength="105.7" lengthAdjust="spacingAndGlyphs">include/pieces.h</text><text x="1533.4" y="315.0" textLength="100.8" lengthAdjust="spacingAndGlyphs">include/game.h</text><text x="2247.0" y="315.0" textLength="93.0" lengthAdjust="spacingAndGlyphs">src/pieces.cpp</text><text x="2398.5" y="315.0" textLength="115.9" lengthAdjust="spacingAndGlyphs">src/fen_string.cpp</text><text x="174.6" y="388.3" textLength="140.2" lengthAdjust="spacingAndGlyphs">include/draw_board.h</text><text x="401.5" y="388.3" textLength="119.6" lengthAdjust="spacingAndGlyphs">src/test_game.cpp</text><text x="1392.0" y="388.3" textLength="168.2" lengthAdjust="spacingAndGlyphs">include/game_controller.h</text><text x="1640.0" y="388.3" textLength="131.0" lengthAdjust="spacingAndGlyphs">src/chess_move.cpp</text><text x="1846.0" y="388.3" textLength="188.0" lengthAdjust="spacingAndGlyphs">src/test_game_scenarios.cpp</text><text x="2334.5" y="388.3" textLength="88.1" lengthAdjust="spacingAndGlyphs">src/game.cpp</text><text x="2466.6" y="388.3" textLength="86.2" lengthAdjust="spacingAndGlyphs">src/piece.cpp</text><text x="166.2" y="469.0" textLength="122.3" lengthAdjust="spacingAndGlyphs">src/lobby_view.cpp</text><text x="596.0" y="469.0" textLength="134.4" lengthAdjust="spacingAndGlyphs">src/options_view.cpp</text><text x="773.0" y="469.0" textLength="127.5" lengthAdjust="spacingAndGlyphs">src/draw_board.cpp</text><text x="945.3" y="469.0" textLength="126.3" lengthAdjust="spacingAndGlyphs">src/user_inputs.cpp</text><text x="1117.0" y="461.7" textLength="124.8" lengthAdjust="spacingAndGlyphs">src/game_statistics</text><text x="1117.0" y="476.4" textLength="82.1" lengthAdjust="spacingAndGlyphs">_in_time.cpp</text><text x="1288.9" y="461.7" textLength="124.8" lengthAdjust="spacingAndGlyphs">src/game_statistics</text><text x="1288.9" y="476.4" textLength="103.6" lengthAdjust="spacingAndGlyphs">_output_file.cpp</text><text x="1466.1" y="469.0" textLength="136.1" lengthAdjust="spacingAndGlyphs">include/game_view.h</text><text x="1695.7" y="461.7" textLength="124.8" lengthAdjust="spacingAndGlyphs">src/game_statistics</text><text x="1695.7" y="476.4" textLength="78.2" lengthAdjust="spacingAndGlyphs">_widget.cpp</text><text x="1862.4" y="469.0" textLength="114.7" lengthAdjust="spacingAndGlyphs">src/test_rules.cpp</text><text x="2093.0" y="469.0" textLength="152.6" lengthAdjust="spacingAndGlyphs">src/game_statistics.cpp</text><text x="2345.3" y="469.0" textLength="155.5" lengthAdjust="spacingAndGlyphs">src/game_controller.cpp</text><text x="2590.4" y="469.0" textLength="140.7" lengthAdjust="spacingAndGlyphs">src/action_history.cpp</text><text x="2808.7" y="469.0" textLength="102.7" lengthAdjust="spacingAndGlyphs">include/replay.h</text><text x="978.3" y="549.6" textLength="123.4" lengthAdjust="spacingAndGlyphs">src/game_view.cpp</text><text x="2292.0" y="549.6" textLength="90.0" lengthAdjust="spacingAndGlyphs">src/replay.cpp</text><text x="2627.4" y="549.6" textLength="139.8" lengthAdjust="spacingAndGlyphs">include/replay_view.h</text><text x="2821.5" y="549.6" textLength="151.1" lengthAdjust="spacingAndGlyphs">include/main_window.h</text><text x="328.0" y="623.0" textLength="127.1" lengthAdjust="spacingAndGlyphs">src/replay_view.cpp</text><text x="1584.0" y="623.0" textLength="83.7" lengthAdjust="spacingAndGlyphs">src/main.cpp</text><text x="2627.4" y="623.0" textLength="138.4" lengthAdjust="spacingAndGlyphs">src/main_window.cpp</text></g></svg></body></html>
